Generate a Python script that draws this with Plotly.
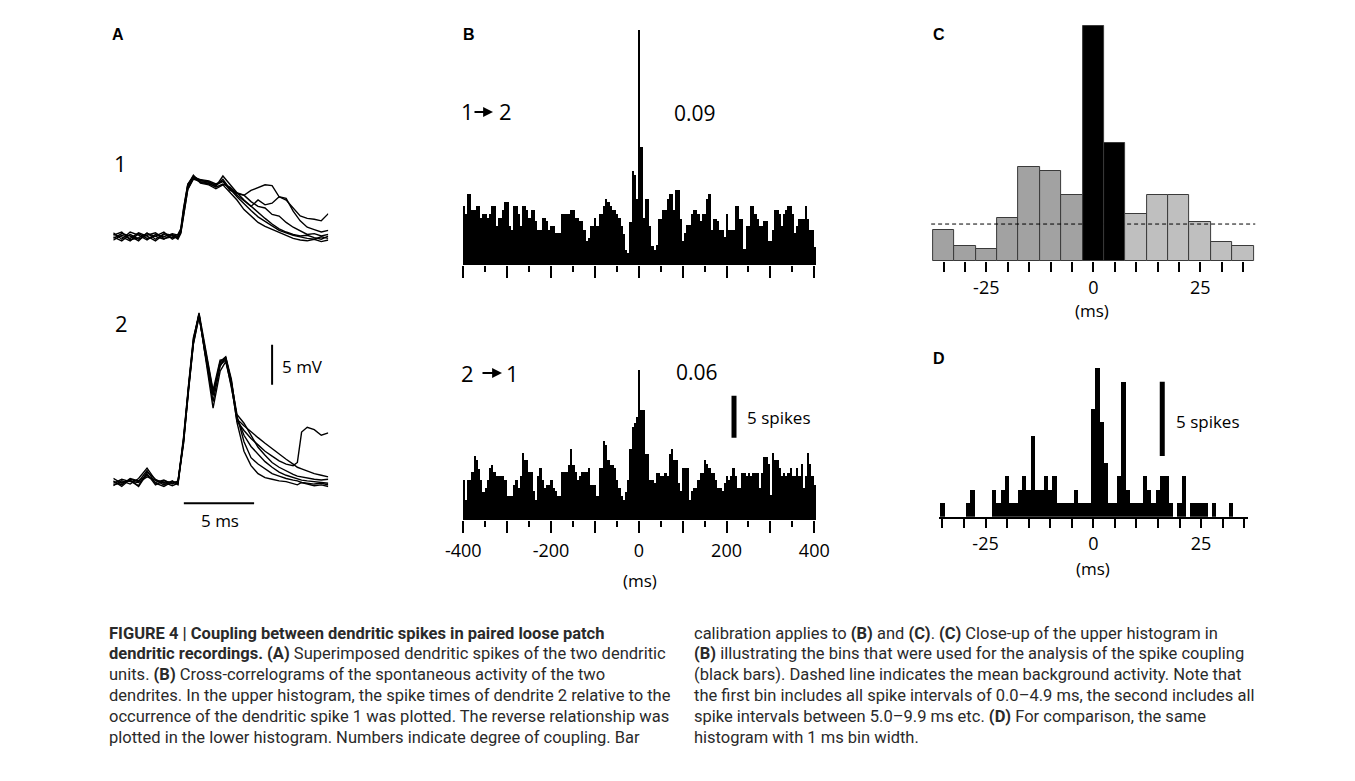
import plotly.graph_objects as go

W, H = 1355, 781

# ---------------- data ----------------
# Panel B: cross-correlograms, 5 ms bins, lag in ms, counts in spikes
b_lags = list(range(-400, 401, 5))
b_upper = [
    7.0, 6.1, 8.4, 8.4, 6.5, 6.5, 7.0, 7.0, 5.6, 6.1, 6.1, 5.6, 6.1, 7.0, 7.0, 4.7, 5.6, 5.6, 6.5, 7.5,
    7.5, 4.6, 4.2, 7.0, 7.0, 6.1, 4.7, 7.0, 7.0, 6.5, 5.6, 6.5, 6.5, 5.2, 4.2, 4.2, 5.6, 5.6, 5.2, 4.2,
    4.7, 4.7, 3.8, 3.8, 3.8, 6.1, 6.1, 6.1, 6.1, 6.5, 6.5, 5.6, 5.6, 5.2, 5.2, 4.2, 2.8, 3.2, 4.7, 4.7,
    5.6, 4.7, 6.1, 6.1, 7.0, 7.9, 7.5, 7.0, 6.5, 6.5, 6.1, 5.6, 4.7,
    3.7, 1.8, 1.4, 5.1, 11.2, 10.7, 7.9, 28.0, 14.0, 5.6, 7.9, 7.9, 4.7, 2.3, 1.8,
    2.4, 5.5, 5.5, 6.5, 6.5, 7.9, 8.4, 8.4, 6.5, 8.9, 8.9, 5.5, 2.9, 3.8, 4.8, 4.8, 6.1, 6.5, 6.5, 6.1,
    5.2, 6.1, 6.1, 7.9, 8.4, 4.2, 5.5, 5.5, 5.2, 4.2, 4.2, 3.3, 6.1, 4.2, 4.2, 4.2, 7.0, 7.0, 5.5, 5.5,
    1.9, 4.6, 4.6, 7.0, 7.0, 6.1, 5.5, 4.6, 4.6, 5.2, 5.2, 2.9, 2.9, 4.2, 6.5, 6.5, 6.1, 4.6, 6.1, 6.5,
    7.0, 7.0, 6.1, 3.8, 4.6, 5.5, 5.5, 5.5, 7.0, 5.5, 4.2, 4.2, 2.2,
]
b_lower = [
    4.8, 2.4, 4.8, 4.8, 5.7, 7.6, 7.1, 6.1, 4.8, 3.3, 3.8, 4.8, 6.2, 6.6, 5.7, 5.2, 5.2, 5.2, 5.2, 4.8,
    2.9, 2.9, 2.9, 4.2, 4.8, 3.8, 5.2, 8.0, 7.1, 7.1, 5.7, 5.7, 3.4, 2.4, 5.2, 6.2, 4.8, 3.8, 4.2, 4.2,
    4.8, 3.8, 3.4, 2.9, 2.9, 5.7, 5.7, 5.7, 6.6, 8.5, 6.6, 5.7, 4.8, 5.2, 5.7, 5.7, 5.7, 6.2, 4.2, 4.2,
    4.2, 2.9, 6.2, 6.2, 9.4, 8.9, 7.1, 6.6, 6.6, 6.2, 4.8, 3.8, 2.9,
    2.4, 3.3, 4.8, 8.5, 11.1, 11.5, 12.3, 17.8, 13.1, 13.1, 7.9, 7.9, 4.8,
    4.8, 4.4, 5.6, 5.6, 5.2, 5.2, 5.6, 5.2, 7.9, 8.4, 7.1, 7.1, 4.4, 3.4, 6.2, 6.2, 6.2, 2.4, 3.4, 3.8,
    3.8, 4.8, 5.6, 5.6, 7.1, 6.7, 6.2, 5.6, 5.6, 4.8, 3.8, 3.8, 3.4, 4.4, 5.2, 4.8, 5.2, 6.2, 5.2, 3.8,
    3.8, 5.6, 5.6, 5.2, 5.6, 5.2, 5.6, 5.6, 5.6, 3.8, 5.6, 7.5, 7.5, 6.7, 3.0, 8.0, 7.1, 7.1, 6.2, 5.2,
    5.6, 5.2, 5.6, 6.2, 5.2, 5.2, 6.2, 5.2, 6.7, 3.8, 5.2, 8.0, 6.7, 5.2, 4.2,
]
b_upper_pair = ("1", "2")
b_lower_pair = ("2", "1")
b_upper_coupling = "0.09"
b_lower_coupling = "0.06"
b_tickvals = list(range(-400, 401, 100))
b_minor_tickvals = list(range(-350, 400, 100))
b_ticktext = ["-400", "", "-200", "", "0", "", "200", "", "400"]

# Panel C: close-up, 5 ms bins
c_lags = list(range(-35, 36, 5))
c_counts = [3.7, 1.8, 1.4, 5.1, 11.2, 10.7, 7.9, 28.0, 14.0, 5.6, 7.9, 7.9, 4.7, 2.3, 1.8]
c_group = ["pre"] * 7 + ["coupled"] * 2 + ["post"] * 6
c_background = 4.4
cd_tickvals = list(range(-35, 36, 5))
cd_ticktext = ["", "", "-25", "", "", "", "", "0", "", "", "", "", "25", "", ""]

# Panel D: 1 ms bins
d_lags = list(range(-35, 36))
d_counts = [
    1, 0, 0, 0, 0, 0, 1, 2, 0, 0, 0, 0, 2, 1, 2, 3, 1, 1, 2, 3, 2, 6, 2, 2, 3, 2, 3, 1, 1, 1, 1, 2, 1, 1, 1,
    8, 11, 7, 4, 1, 1, 3, 10, 2, 1, 1, 1, 3, 2, 1, 2, 3, 3, 1, 0, 1, 3, 0, 1, 1, 1, 1, 0, 1, 0, 0, 0, 1, 0, 0, 0,
]

# Panel A: superimposed dendritic spikes (time in ms, voltage in mV)
a1_time = [0, 0.6, 1.2, 1.8, 2.4, 3.0, 3.6, 4.2, 4.6, 4.8, 5.0, 5.3, 5.7, 6.2, 6.8, 7.3, 7.8,
           8.3, 8.8, 9.3, 9.8, 10.3, 10.8, 11.3, 11.8, 12.3, 12.8, 13.3, 13.8, 14.3, 14.8, 15.3]
a1_trace1 = [0.5, -0.3, 0.6, 0.2, -0.4, 0.3, 0.0, 0.4, 0.2, 0.8, 3.2, 6.4, 7.6, 7.0, 6.9, 6.4, 7.2,
             6.0, 5.0, 4.1, 3.3, 2.5, 1.9, 1.3, 0.8, 0.5, 0.2, 0.0, -0.2, -0.3, 0.0, -0.2]
a1_trace2 = [-0.4, 0.2, -0.2, 0.5, 0.1, -0.5, 0.3, -0.1, 0.0, 0.6, 3.0, 6.2, 7.4, 6.8, 6.6, 6.3, 7.6,
             6.5, 5.5, 4.6, 3.8, 3.0, 2.3, 1.6, 1.0, 0.6, 0.3, 0.1, 0.2, -0.1, -0.3, 0.1]
a1_trace3 = [0.2, 0.6, -0.4, -0.1, 0.4, 0.0, -0.3, 0.3, -0.1, 0.5, 2.8, 6.0, 7.2, 6.9, 6.7, 6.2, 6.6,
             6.2, 5.4, 5.2, 5.8, 6.2, 6.5, 6.4, 5.0, 4.6, 3.6, 2.6, 2.3, 2.2, 2.0, 2.9]
a1_trace4 = [0.0, -0.5, 0.3, -0.3, 0.2, 0.5, -0.2, 0.0, 0.3, 1.0, 3.6, 6.6, 7.5, 7.1, 6.8, 6.5, 6.9,
             6.0, 5.2, 4.5, 3.8, 4.6, 4.0, 4.2, 5.0, 4.8, 3.2, 2.0, 1.2, 0.9, 0.6, 0.8]
a1_trace5 = [-0.2, 0.4, 0.1, -0.5, 0.5, -0.3, 0.4, 0.2, -0.3, 0.4, 2.6, 5.9, 7.3, 7.2, 7.0, 6.6, 7.0,
             5.8, 5.5, 5.2, 4.4, 3.8, 3.6, 2.8, 2.6, 1.8, 1.2, 0.7, 0.3, 0.4, 0.1, 0.3]
a1_trace6 = [0.3, 0.0, -0.5, 0.4, -0.2, 0.1, 0.6, -0.3, 0.1, 0.7, 3.4, 6.5, 7.7, 6.7, 6.5, 6.0, 6.5,
             5.5, 4.6, 3.4, 2.6, 1.8, 1.3, 0.9, 0.5, 0.2, -0.2, -0.4, -0.5, -0.3, -0.6, -0.4]

a2_time = [0, 0.6, 1.2, 1.8, 2.4, 3.0, 3.6, 4.2, 4.6, 5.0, 5.35, 5.7, 6.1, 6.5, 7.1, 7.6, 8.0, 8.4, 8.8,
           9.3, 9.8, 10.3, 10.8, 11.3, 11.8, 12.3, 12.8, 13.1, 13.4, 13.8, 14.3, 14.8, 15.3]
a2_trace1 = [0.3, -0.4, 0.5, 0.2, 1.6, 0.0, -0.4, 0.2, 0.1, 5.8, 12.2, 18.2, 21.0, 17.0, 11.4, 14.8, 15.4, 12.5, 7.6,
             4.0, 2.2, 1.2, 0.7, 0.5, 0.3, 0.2, 0.0, -0.2, 0.1, -0.1, -0.3, -0.2, -0.4]
a2_trace2 = [-0.3, 0.3, -0.1, 0.6, 1.9, 0.4, 0.1, -0.3, 0.0, 5.4, 11.8, 17.6, 21.2, 16.5, 11.0, 15.0, 15.6, 12.8, 8.2,
             6.0, 4.6, 3.6, 2.7, 2.0, 1.4, 1.0, 0.7, 0.6, 0.4, 0.3, 0.2, 0.1, 0.0]
a2_trace3 = [0.6, 0.0, 0.4, -0.4, 1.2, -0.2, 0.3, 0.0, 0.2, 5.1, 11.5, 17.4, 20.8, 16.8, 11.0, 15.2, 15.8, 13.0, 8.0,
             7.2, 6.4, 5.7, 5.0, 4.3, 3.7, 3.0, 2.4, 2.0, 1.8, 1.5, 1.2, 1.0, 0.8]
a2_trace4 = [0.0, 0.5, 0.2, 0.1, 0.8, 0.4, -0.2, 0.3, -0.2, 5.6, 12.0, 17.8, 21.1, 16.2, 9.4, 14.0, 15.2, 12.2, 7.8,
             6.6, 5.6, 4.8, 4.0, 3.4, 2.8, 2.4, 2.2, 2.6, 6.4, 7.0, 6.7, 6.0, 6.3]
a2_trace5 = [0.2, -0.2, 0.6, 0.3, 1.0, 0.1, 0.4, -0.1, 0.3, 5.3, 11.9, 18.0, 21.3, 17.2, 11.6, 15.4, 15.5, 12.0, 8.4,
             5.2, 3.2, 2.4, 1.8, 1.2, 0.9, 0.6, 0.4, 0.3, 0.1, 0.0, -0.1, 0.0, -0.2]
a2_trace6 = [-0.2, 0.1, 0.3, -0.3, 1.4, 0.5, 0.0, 0.2, -0.1, 5.0, 11.6, 17.5, 20.9, 16.4, 10.2, 14.6, 15.8, 12.6, 8.6,
             7.5, 6.0, 4.5, 3.5, 2.6, 2.0, 1.5, 1.1, 0.9, 0.8, 0.6, 0.5, 0.4, 0.5]

caption_left = [
    "<b>FIGURE 4 | Coupling between dendritic spikes in paired loose patch</b>",
    "<b>dendritic recordings. (A)</b> Superimposed dendritic spikes of the two dendritic",
    "units. <b>(B)</b> Cross-correlograms of the spontaneous activity of the two",
    "dendrites. In the upper histogram, the spike times of dendrite 2 relative to the",
    "occurrence of the dendritic spike 1 was plotted. The reverse relationship was",
    "plotted in the lower histogram. Numbers indicate degree of coupling. Bar",
]
caption_right = [
    "calibration applies to <b>(B)</b> and <b>(C)</b>. <b>(C)</b> Close-up of the upper histogram in",
    "<b>(B)</b> illustrating the bins that were used for the analysis of the spike coupling",
    "(black bars). Dashed line indicates the mean background activity. Note that",
    "the first bin includes all spike intervals of 0.0\u20134.9 ms, the second includes all",
    "spike intervals between 5.0\u20139.9 ms etc. <b>(D)</b> For comparison, the same",
    "histogram with 1 ms bin width.",
]

# ---------------- layout helpers ----------------
FONT = "Open Sans"
CAP_FONT = "Roboto"
A1_OFFSET = 30.8  # vertical offset (mV) of the upper trace group in panel A
PAGE_OFF = 8      # page body margin compensation (px)


def px(x):
    return (x - PAGE_OFF) / W


def py(y):
    return 1 - (y - PAGE_OFF) / H


def ann(text, x, y, size=17, xanchor="left", family=FONT, color="black"):
    return dict(text=text, x=px(x), y=py(y), xref="paper", yref="paper",
                xanchor=xanchor, yanchor="middle", showarrow=False,
                font=dict(family=family, size=size, color=color))


def arrow(x_tail, x_head, y):
    return dict(text="", x=px(x_head), y=py(y), xref="paper", yref="paper",
                ax=-(x_head - x_tail), ay=0, axref="pixel", ayref="pixel",
                showarrow=True, arrowhead=2, arrowsize=1.1, arrowwidth=1.8,
                arrowcolor="black", standoff=0, startstandoff=0)


fig = go.Figure()

# Panel A traces
for tr in [a1_trace1, a1_trace2, a1_trace3, a1_trace4, a1_trace5, a1_trace6]:
    fig.add_trace(go.Scatter(x=a1_time, y=[v + A1_OFFSET for v in tr], mode="lines",
                             line=dict(color="black", width=1.4), xaxis="x", yaxis="y",
                             showlegend=False, hoverinfo="skip"))
for tr in [a2_trace1, a2_trace2, a2_trace3, a2_trace4, a2_trace5, a2_trace6]:
    fig.add_trace(go.Scatter(x=a2_time, y=tr, mode="lines",
                             line=dict(color="black", width=1.4), xaxis="x", yaxis="y",
                             showlegend=False, hoverinfo="skip"))

# Panel B
fig.add_trace(go.Bar(x=b_lags, y=b_upper, width=5, marker=dict(color="black", line=dict(width=0)),
                     xaxis="x2", yaxis="y2", showlegend=False))
fig.add_trace(go.Bar(x=b_lags, y=b_lower, width=5, marker=dict(color="black", line=dict(width=0)),
                     xaxis="x3", yaxis="y3", showlegend=False))

# Panel C
group_colors = {"pre": "#a2a2a2", "coupled": "#000000", "post": "#bfbfbf"}
fig.add_trace(go.Bar(x=c_lags, y=c_counts, width=5,
                     marker=dict(color=[group_colors[g] for g in c_group],
                                 line=dict(color="#3a3a3a", width=1)),
                     xaxis="x4", yaxis="y4", showlegend=False))

# Panel D
fig.add_trace(go.Bar(x=d_lags, y=d_counts, width=1, marker=dict(color="black", line=dict(width=0)),
                     xaxis="x5", yaxis="y5", showlegend=False))

hidden = dict(visible=False, showgrid=False, zeroline=False, fixedrange=True, automargin=False)
tickfont = dict(family=FONT, size=18, color="black")


def b_xaxis(anchor, labels):
    return dict(domain=[px(461.55), px(816.5)], range=[-404, 405], anchor=anchor,
                showline=False, showgrid=False, zeroline=False, automargin=False,
                ticks="outside", tickmode="array", tickvals=b_tickvals,
                ticktext=b_ticktext if labels else [""] * len(b_tickvals),
                ticklen=12, tickwidth=1.6, tickcolor="black", tickfont=tickfont,
                ticklabelstandoff=2,
                minor=dict(tickmode="array", tickvals=b_minor_tickvals, ticks="outside",
                           ticklen=6, tickwidth=1.6, tickcolor="black", showgrid=False))


fig.update_layout(
    width=W, height=H, autosize=False,
    margin=dict(l=0, r=0, t=0, b=0, pad=0, autoexpand=False),
    paper_bgcolor="white", plot_bgcolor="rgba(0,0,0,0)",
    barmode="overlay", bargap=0,
    showlegend=False,
    xaxis=dict(hidden, domain=[px(113.3), px(328.3)], range=[0, 15.3], anchor="y"),
    yaxis=dict(hidden, domain=[py(530), py(140)], range=[-5.84, 42.9], anchor="x"),
    xaxis2=b_xaxis("y2", False),
    yaxis2=dict(hidden, domain=[py(265), py(25)], range=[0, 240 / 8.4], anchor="x2"),
    xaxis3=b_xaxis("y3", True),
    yaxis3=dict(hidden, domain=[py(520), py(365)], range=[0, 155 / 8.4], anchor="x3"),
    xaxis4=dict(domain=[px(931.1), px(1255.5)], range=[-37.9, 37.9], anchor="y4",
                showline=False, showgrid=False, zeroline=False, automargin=False, ticks="outside",
                tickmode="array", tickvals=cd_tickvals, ticktext=cd_ticktext,
                ticklen=10, tickwidth=1.6, tickcolor="black", tickfont=tickfont,
                ticklabelstandoff=0),
    yaxis4=dict(hidden, domain=[py(261), py(20)], range=[0, 241 / 8.4], anchor="x4"),
    xaxis5=dict(domain=[px(939.0), px(1247.6)], range=[-35.8, 35.8], anchor="y5",
                showline=True, linecolor="black", linewidth=1.5, automargin=False,
                showgrid=False, zeroline=False, ticks="outside",
                tickmode="array", tickvals=cd_tickvals, ticktext=cd_ticktext,
                ticklen=10, tickwidth=1.6, tickcolor="black", tickfont=tickfont,
                ticklabelstandoff=0),
    yaxis5=dict(hidden, domain=[py(516.7), py(360)], range=[0, 156.7 / 13.5], anchor="x5"),
)

shapes = [
    # Panel A scale bars
    dict(type="line", xref="x", yref="y", x0=11.3, x1=11.3, y0=12.3, y1=17.3,
         line=dict(color="black", width=2)),
    dict(type="line", xref="x", yref="y", x0=5.02, x1=10.02, y0=-2.5, y1=-2.5,
         line=dict(color="black", width=2)),
    # Panel B calibration bar (5 spikes)
    dict(type="line", xref="x3", yref="y3", x0=217, x1=217, y0=9.8, y1=14.8,
         line=dict(color="black", width=5)),
    # Panel C background line
    dict(type="line", xref="x4", yref="y4", x0=-37.9, x1=37.9, y0=c_background, y1=c_background,
         line=dict(color="black", width=1, dash="4px,3px")),
    # Panel D calibration bar (drawn to match figure length)
    dict(type="line", xref="x5", yref="y5", x0=16.0, x1=16.0, y0=4.5, y1=10.0,
         line=dict(color="black", width=5)),
]

annotations = [
    ann("<b>A</b>", 110, 35, size=16, family="Liberation Sans"),
    ann("<b>B</b>", 461, 35, size=16, family="Liberation Sans"),
    ann("<b>C</b>", 931, 35, size=16, family="Liberation Sans"),
    ann("<b>D</b>", 931, 358, size=16, family="Liberation Sans"),
    ann("1", 112, 163, size=22),
    ann("2", 113, 323, size=22),
    ann("5 mV", 280, 367, size=17),
    ann("5 ms", 220, 520, size=17, xanchor="center"),
    ann(b_upper_pair[0], 459, 111, size=22),
    arrow(473, 493, 112),
    ann(b_upper_pair[1], 497, 111, size=22),
    ann(b_upper_coupling, 672, 113, size=21),
    ann(b_lower_pair[0], 459, 373, size=22),
    arrow(481, 502, 373),
    ann(b_lower_pair[1], 504, 373, size=22),
    ann(b_lower_coupling, 674, 372, size=21),
    ann("5 spikes", 745, 418, size=17),
    ann("(ms)", 640, 580, size=17, xanchor="center"),
    ann("(ms)", 1092, 310, size=17, xanchor="center"),
    ann("5 spikes", 1174, 421, size=17),
    ann("(ms)", 1093, 568, size=17, xanchor="center"),
]
for i, line in enumerate(caption_left):
    annotations.append(ann(line, 107, 633 + 20.9 * i, size=16.5, family=CAP_FONT, color="#2a2a2a"))
for i, line in enumerate(caption_right):
    annotations.append(ann(line, 692, 633 + 20.9 * i, size=16.5, family=CAP_FONT, color="#2a2a2a"))

fig.update_layout(shapes=shapes, annotations=annotations)

fig.write_html("out.html")
